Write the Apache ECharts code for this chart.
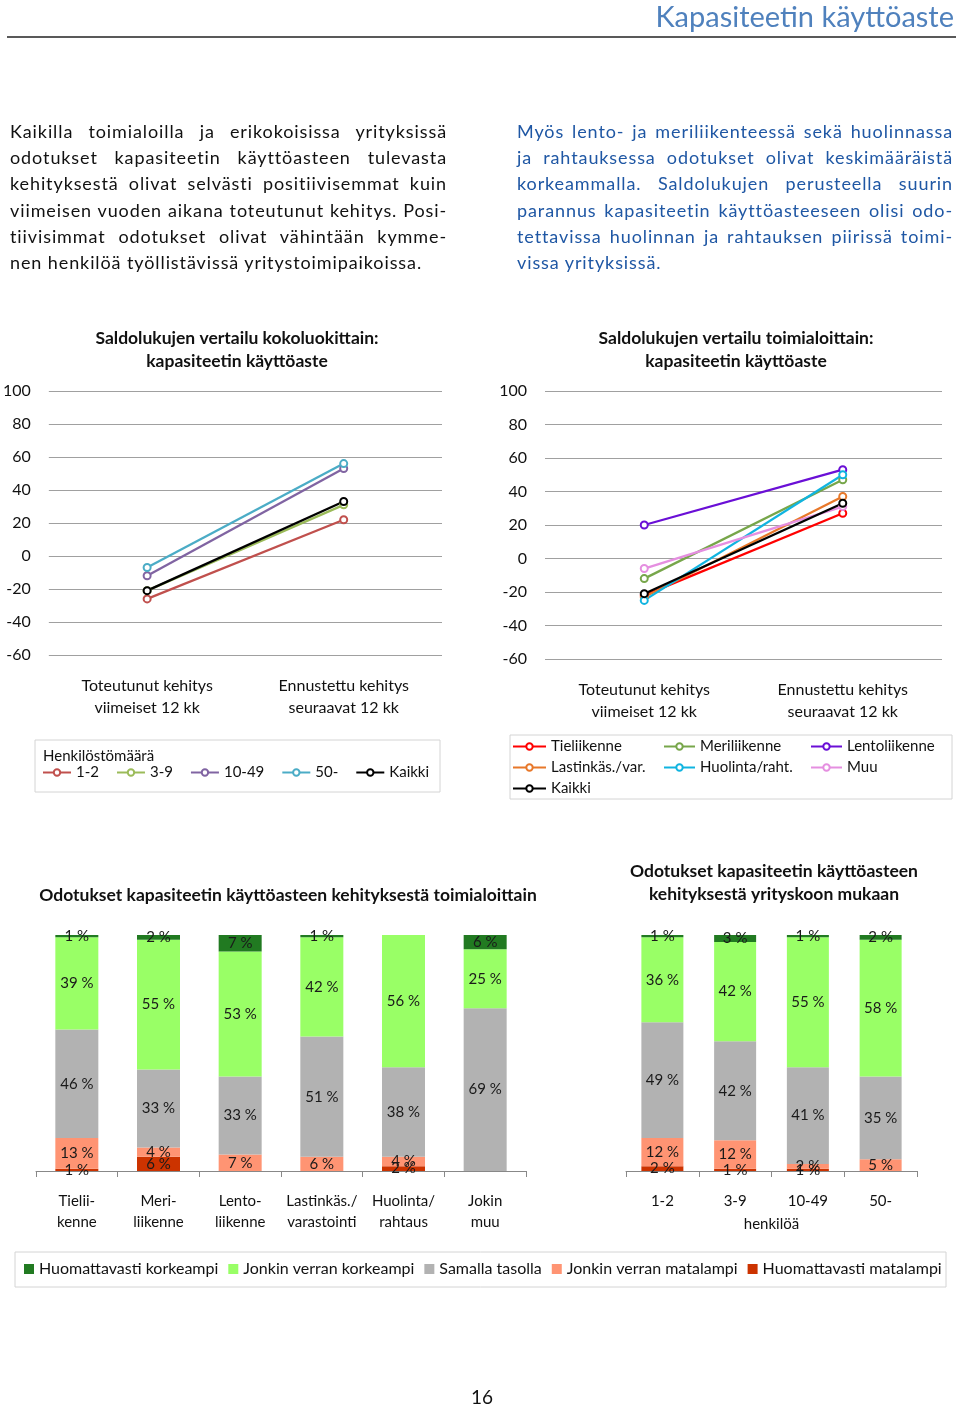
<!DOCTYPE html>
<html><head><meta charset="utf-8">
<script src="https://cdn.jsdelivr.net/npm/echarts@6/dist/echarts.min.js"></script>
<style>
body{margin:0;background:#fff;}
#wrap{position:relative;width:960px;height:1408px;overflow:hidden;font-family:Lato,'Open Sans',sans-serif;}
#chart{position:absolute;left:0;top:0;width:960px;height:1408px;}
.para{position:absolute;top:118px;font-size:18px;line-height:26.2px;color:#111;letter-spacing:0.9px;}
.para div{text-align:justify;text-align-last:justify;white-space:nowrap;}
.para div.last{text-align-last:left;}
#p1{left:10px;width:437px;}
#p2{left:517px;width:436px;color:#1f57a4;}
</style>
</head><body>
<div id="wrap">
<div id="chart"></div>
<div class="para" id="p1">
<div>Kaikilla toimialoilla ja erikokoisissa yrityksissä</div>
<div>odotukset kapasiteetin käyttöasteen tulevasta</div>
<div>kehityksestä olivat selvästi positiivisemmat kuin</div>
<div>viimeisen vuoden aikana toteutunut kehitys. Posi-</div>
<div>tiivisimmat odotukset olivat vähintään kymme-</div>
<div class="last">nen henkilöä työllistävissä yritystoimipaikoissa.</div>
</div>
<div class="para" id="p2">
<div>Myös lento- ja meriliikenteessä sekä huolinnassa</div>
<div>ja rahtauksessa odotukset olivat keskimääräistä</div>
<div>korkeammalla. Saldolukujen perusteella suurin</div>
<div>parannus kapasiteetin käyttöasteeseen olisi odo-</div>
<div>tettavissa huolinnan ja rahtauksen piirissä toimi-</div>
<div class="last">vissa yrityksissä.</div>
</div>
</div>
<script>
// ---------- DATA ----------
const lineCats = ['Toteutunut kehitys\nviimeiset 12 kk', 'Ennustettu kehitys\nseuraavat 12 kk'];

// Left line chart: by company size
const sizeSeriesNames = ['1-2', '3-9', '10-49', '50-', 'Kaikki'];
const size_1_2 = [-26, 22];
const size_3_9 = [-21, 31];
const size_10_49 = [-12, 53];
const size_50 = [-7, 56];
const size_all = [-21, 33];

// Right line chart: by industry
const indSeriesNames = ['Tieliikenne', 'Meriliikenne', 'Lentoliikenne', 'Lastinkäs./var.', 'Huolinta/raht.', 'Muu', 'Kaikki'];
const ind_tie = [-22, 27];
const ind_meri = [-12, 47];
const ind_lento = [20, 53];
const ind_lastin = [-23, 37];
const ind_huolinta = [-25, 50];
const ind_muu = [-6, 31];
const ind_all = [-21, 33];

// Bar charts
const barSeriesNames = ['Huomattavasti korkeampi', 'Jonkin verran korkeampi', 'Samalla tasolla', 'Jonkin verran matalampi', 'Huomattavasti matalampi'];

const industryCats = ['Tielii-\nkenne', 'Meri-\nliikenne', 'Lento-\nliikenne', 'Lastinkäs./\nvarastointi', 'Huolinta/\nrahtaus', 'Jokin\nmuu'];
const indMuchHigher = [1, 2, 7, 1, 0, 6];
const indHigher = [39, 55, 53, 42, 56, 25];
const indSame = [46, 33, 33, 51, 38, 69];
const indLower = [13, 4, 7, 6, 4, 0];
const indMuchLower = [1, 6, 0, 0, 2, 0];

const sizeCats = ['1-2', '3-9', '10-49', '50-'];
const szMuchHigher = [1, 3, 1, 2];
const szHigher = [36, 42, 55, 58];
const szSame = [49, 42, 41, 35];
const szLower = [12, 12, 2, 5];
const szMuchLower = [2, 1, 1, 0];

// ---------- STYLE ----------
const FONT = 'Lato';
const sizeColors = ['#c0504d', '#9bbb59', '#8064a2', '#4bacc6', '#000000'];
const indColors = ['#ff0000', '#77a64a', '#6a0fd6', '#e8782a', '#10b4e0', '#e58fe0', '#000000'];
const barColors = ['#217a21', '#99ff66', '#b2b2b2', '#ff9473', '#cc3300'];

const chart = echarts.init(document.getElementById('chart'), null, {renderer: 'canvas'});

function lineSeries(name, data, color, idx) {
  return {
    type: 'line', name: name, data: data,
    xAxisIndex: idx, yAxisIndex: idx,
    symbol: 'emptyCircle', symbolSize: 7,
    lineStyle: {color: color, width: 2.3},
    itemStyle: {color: color, borderWidth: 1.5},
    emphasis: {disabled: true},
    animation: false
  };
}
function barSeries(name, data, color, idx, stack) {
  return {
    type: 'bar', name: name, data: data, stack: stack,
    xAxisIndex: idx, yAxisIndex: idx,
    barWidth: 43,
    itemStyle: {color: color},
    label: {
      show: true, position: 'inside', fontFamily: FONT, fontSize: 15, color: '#1a1a1a',
      formatter: p => p.value > 0 ? p.value + ' %' : ''
    },
    emphasis: {disabled: true},
    animation: false
  };
}

const lineYAxis = (gi, margin) => ({
  gridIndex: gi, type: 'value', min: -60, max: 100, interval: 20,
  axisLine: {show: false}, axisTick: {show: false},
  splitLine: {lineStyle: {color: '#a0a0a0', width: 1}},
  axisLabel: {fontFamily: FONT, fontSize: 16, color: '#111', margin: margin}
});
const lineXAxis = (gi, margin) => ({
  gridIndex: gi, type: 'category', data: lineCats, boundaryGap: true,
  axisLine: {show: false}, axisTick: {show: false},
  axisLabel: {fontFamily: FONT, fontSize: 16, color: '#111', lineHeight: 22, margin: margin, interval: 0}
});
const barXAxis = (gi, cats, extra) => Object.assign({
  gridIndex: gi, type: 'category', data: cats,
  axisLine: {lineStyle: {color: '#888', width: 1}},
  axisTick: {show: true, length: 6, interval: 0, lineStyle: {color: '#888'}},
  axisLabel: {fontFamily: FONT, fontSize: 15, color: '#111', lineHeight: 21, margin: 20, interval: 0}
}, extra || {});
const barYAxis = gi => ({
  gridIndex: gi, type: 'value', min: 0, max: 100, show: false
});

const series = [];
const sizeData = [size_1_2, size_3_9, size_10_49, size_50, size_all];
sizeSeriesNames.forEach((n, i) => series.push(lineSeries(n, sizeData[i], sizeColors[i], 0)));
const indData = [ind_tie, ind_meri, ind_lento, ind_lastin, ind_huolinta, ind_muu, ind_all];
indSeriesNames.forEach((n, i) => series.push(lineSeries(n, indData[i], indColors[i], 1)));

// bars: bottom-to-top stacking order
const indBars = [indMuchLower, indLower, indSame, indHigher, indMuchHigher];
const szBars = [szMuchLower, szLower, szSame, szHigher, szMuchHigher];
for (let k = 4; k >= 0; k--) {
  series.push(barSeries(barSeriesNames[k], indBars[4 - k], barColors[k], 2, 'ind'));
}
for (let k = 4; k >= 0; k--) {
  const s = barSeries(barSeriesNames[k], szBars[4 - k], barColors[k], 3, 'sz');
  s.barWidth = 42;
  series.push(s);
}

const legendText = {fontFamily: FONT, fontSize: 15, color: '#111'};

const titleStyle = {fontFamily: FONT, fontSize: 17.5, fontWeight: 'bold', color: '#111', lineHeight: 23};
const option = {
  backgroundColor: '#fff',
  animation: false,
  title: [
    {text: 'Kapasiteetin käyttöaste', right: 6, top: 3, padding: 0,
     textStyle: {fontFamily: FONT, fontSize: 29, fontWeight: 'normal', color: '#4f81bd'}},
    {text: 'Saldolukujen vertailu kokoluokittain:\nkapasiteetin käyttöaste', left: 237, textAlign: 'center', top: 327, padding: 0,
     textStyle: titleStyle},
    {text: 'Saldolukujen vertailu toimialoittain:\nkapasiteetin käyttöaste', left: 736, textAlign: 'center', top: 327, padding: 0,
     textStyle: titleStyle},
    {text: 'Odotukset kapasiteetin käyttöasteen kehityksestä toimialoittain', left: 288, textAlign: 'center', top: 884, padding: 0,
     textStyle: titleStyle},
    {text: 'Odotukset kapasiteetin käyttöasteen\nkehityksestä yrityskoon mukaan', left: 774, textAlign: 'center', top: 860, padding: 0,
     textStyle: titleStyle}
  ],
  grid: [
    {left: 45, top: 391, width: 397, height: 264},
    {left: 545, top: 391, width: 397, height: 268},
    {left: 36, top: 935, width: 490, height: 236},
    {left: 626, top: 935, width: 291, height: 236}
  ],
  xAxis: [
    lineXAxis(0, 20),
    lineXAxis(1, 20),
    barXAxis(2, industryCats),
    barXAxis(3, sizeCats, {name: 'henkilöä', nameLocation: 'middle', nameGap: 46,
      nameTextStyle: {fontFamily: FONT, fontSize: 15, color: '#111'}})
  ],
  yAxis: [lineYAxis(0, 18), lineYAxis(1, 18), barYAxis(2), barYAxis(3)],
  legend: [
    {data: sizeSeriesNames, left: 42, top: 765, padding: 0, itemWidth: 28, itemHeight: 8, itemGap: 17,
     selectedMode: false, textStyle: legendText},
    {data: ['Tieliikenne', 'Lastinkäs./var.', 'Kaikki'], orient: 'vertical', left: 512, top: 739, padding: 0,
     itemWidth: 33, itemHeight: 8, itemGap: 6, selectedMode: false, textStyle: legendText},
    {data: ['Meriliikenne', 'Huolinta/raht.'], orient: 'vertical', left: 663, top: 739, padding: 0,
     itemWidth: 31, itemHeight: 8, itemGap: 6, selectedMode: false, textStyle: legendText},
    {data: ['Lentoliikenne', 'Muu'], orient: 'vertical', left: 810, top: 739, padding: 0,
     itemWidth: 31, itemHeight: 8, itemGap: 6, selectedMode: false, textStyle: legendText},
    {data: barSeriesNames, left: 24, top: 1261, padding: 0, icon: 'rect', itemWidth: 10, itemHeight: 10, itemGap: 10,
     selectedMode: false, textStyle: {fontFamily: FONT, fontSize: 16, color: '#111'}}
  ],
  graphic: [
    {type: 'line', shape: {x1: 7, y1: 37, x2: 956, y2: 37}, style: {stroke: '#222', lineWidth: 1.5}, silent: true},
    {type: 'rect', shape: {x: 35, y: 740, width: 405, height: 52}, style: {fill: 'none', stroke: '#d4d4d4', lineWidth: 1}, silent: true, z: -1},
    {type: 'text', x: 43, y: 749, style: {text: 'Henkilöstömäärä', font: '15px ' + FONT, fill: '#111'}, silent: true},
    {type: 'rect', shape: {x: 510, y: 735, width: 442, height: 64}, style: {fill: 'none', stroke: '#d4d4d4', lineWidth: 1}, silent: true, z: -1},
    {type: 'rect', shape: {x: 15, y: 1252, width: 931, height: 35}, style: {fill: 'none', stroke: '#d4d4d4', lineWidth: 1}, silent: true, z: -1},
    {type: 'text', x: 482, y: 1398, style: {text: '16', font: '19px ' + FONT, fill: '#111', textAlign: 'center', textVerticalAlign: 'middle'}, silent: true}
  ],
  series: series
};
chart.setOption(option);
</script>
</body></html>
